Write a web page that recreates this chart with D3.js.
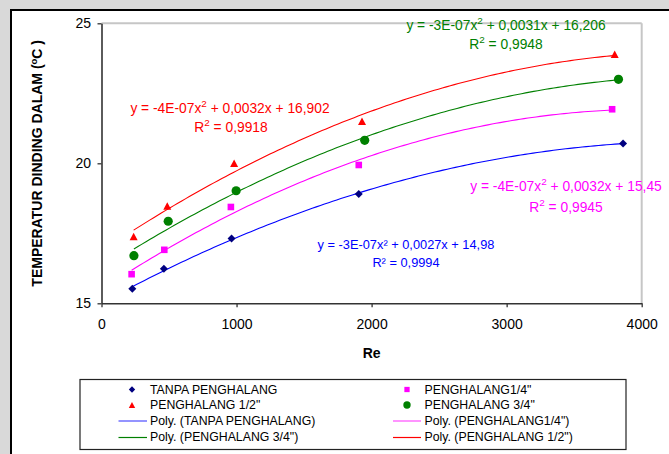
<!DOCTYPE html>
<html>
<head>
<meta charset="utf-8">
<script src="https://cdn.jsdelivr.net/npm/d3@7"></script>
<style>
  html, body { margin: 0; padding: 0; background: #d9d9d9; }
  svg { display: block; }
  text { font-family: "Liberation Sans", Arial, sans-serif; }
</style>
</head>
<body>
<svg id="chart" width="669" height="454"></svg>
<script>
// Measured wall temperature vs. Reynolds number, four baffle configurations
const seriesNames = ["TANPA PENGHALANG", "PENGHALANG1/4\"", "PENGHALANG 1/2\"", "PENGHALANG 3/4\""];
const reTanpa = [228, 462, 963, 1905, 3862];
const tTanpa  = [15.52, 16.23, 17.31, 18.90, 20.71];
const reQuarter = [223, 465, 958, 1905, 3781];
const tQuarter  = [16.04, 16.91, 18.44, 19.94, 21.93];
const reHalf = [238, 487, 982, 1929, 3800];
const tHalf  = [17.38, 18.47, 20.00, 21.50, 23.89];
const reThreeQuarter = [240, 494, 997, 1949, 3828];
const tThreeQuarter  = [16.70, 17.93, 19.02, 20.82, 23.00];

const xTicks = [0, 1000, 2000, 3000, 4000];
const yTicks = [15, 20, 25];

// Trendline equation labels (segments: [text, isSuperscript])
const eqTanpa = [["y = -3E-07x² + 0,0027x + 14,98", false]];
const r2Tanpa = [["R² = 0,9994", false]];
const eqQuarter = [["y = -4E-07x", false], ["2", true], [" + 0,0032x + 15,45", false]];
const r2Quarter = [["R", false], ["2", true], [" = 0,9945", false]];
const eqHalf = [["y = -4E-07x", false], ["2", true], [" + 0,0032x + 16,902", false]];
const r2Half = [["R", false], ["2", true], [" = 0,9918", false]];
const eqThreeQuarter = [["y = -3E-07x", false], ["2", true], [" + 0,0031x + 16,206", false]];
const r2ThreeQuarter = [["R", false], ["2", true], [" = 0,9948", false]];

const svg = d3.select("#chart");

// card frame
svg.append("rect").attr("x", 0).attr("y", 0).attr("width", 669).attr("height", 454).attr("fill", "#d9d9d9");
svg.append("rect").attr("x", 11).attr("y", 10).attr("width", 700).attr("height", 500)
  .attr("fill", "#fff").attr("stroke", "#000").attr("stroke-width", 2);

const x = d3.scaleLinear().domain([0, 4000]).range([101.5, 641.7]);
const y = d3.scaleLinear().domain([15, 25]).range([303.3, 23.3]);

// plot-area border (top / right)
svg.append("line").attr("x1", x(0)).attr("x2", x(4000)).attr("y1", y(25)).attr("y2", y(25))
  .attr("stroke", "#c6c6c6").attr("stroke-width", 2);
svg.append("line").attr("x1", x(4000)).attr("x2", x(4000)).attr("y1", y(25)).attr("y2", y(15))
  .attr("stroke", "#c6c6c6").attr("stroke-width", 2);

// axes
const xAxis = svg.append("g").attr("transform", `translate(0,${y(15)})`)
  .call(d3.axisBottom(x).tickValues(xTicks).tickFormat(d3.format("d")).tickSize(4).tickSizeOuter(0).tickPadding(12));
const yAxis = svg.append("g").attr("transform", `translate(${x(0)},0)`)
  .call(d3.axisLeft(y).tickValues(yTicks).tickFormat(d3.format("d")).tickSize(4).tickSizeOuter(0).tickPadding(6.5));
[xAxis, yAxis].forEach(g => {
  g.select(".domain").attr("stroke", "#333").attr("stroke-width", 1.6);
  g.selectAll(".tick line").attr("stroke", "#333").attr("stroke-width", 1.3);
  g.selectAll(".tick text").attr("font-size", 14).attr("fill", "#000")
    .attr("font-family", "\"Liberation Sans\", Arial, sans-serif");
});

// axis titles
svg.append("text").attr("x", (x(0) + x(4000)) / 2).attr("y", 358).attr("text-anchor", "middle")
  .attr("font-size", 14).attr("font-weight", "bold").text("Re");
const yTitle = svg.append("text").attr("transform", `translate(42,${(y(15) + y(25)) / 2}) rotate(-90)`)
  .attr("text-anchor", "middle").attr("font-size", 14).attr("font-weight", "bold");
yTitle.append("tspan").text("TEMPERATUR DINDING DALAM (");
yTitle.append("tspan").attr("font-size", 9.5).attr("dy", -5.5).text("o");
yTitle.append("tspan").attr("dy", 5.5).text("C )");

// quadratic least-squares trendline
function quadFit(xs, ys) {
  const n = xs.length;
  let s = [0, 0, 0, 0, 0], t = [0, 0, 0];
  for (let i = 0; i < n; i++) {
    let p = 1;
    for (let k = 0; k < 5; k++) { s[k] += p; p *= xs[i]; }
    t[0] += ys[i]; t[1] += ys[i] * xs[i]; t[2] += ys[i] * xs[i] * xs[i];
  }
  const A = [[s[0], s[1], s[2], t[0]], [s[1], s[2], s[3], t[1]], [s[2], s[3], s[4], t[2]]];
  for (let c = 0; c < 3; c++) {
    for (let r = c + 1; r < 3; r++) {
      const f = A[r][c] / A[c][c];
      for (let k = c; k < 4; k++) A[r][k] -= f * A[c][k];
    }
  }
  const b = [0, 0, 0];
  for (let r = 2; r >= 0; r--) {
    let v = A[r][3];
    for (let k = r + 1; k < 3; k++) v -= A[r][k] * b[k];
    b[r] = v / A[r][r];
  }
  return xv => b[0] + b[1] * xv + b[2] * xv * xv;
}

const diamond = s => `M0,${-4 * s}L${4 * s},0L0,${4 * s}L${-4 * s},0Z`;
const square = s => `M${-3.3 * s},${-3.3 * s}h${6.6 * s}v${6.6 * s}h${-6.6 * s}Z`;
const triangle = s => `M0,${-3.9 * s}L${4 * s},${3.6 * s}L${-4 * s},${3.6 * s}Z`;
const circle = s => d3.arc()({ innerRadius: 0, outerRadius: 4.6 * s, startAngle: 0, endAngle: 2 * Math.PI });

const series = [
  { re: reTanpa, t: tTanpa, line: "#0000ff", mark: "#000080", shape: diamond },
  { re: reQuarter, t: tQuarter, line: "#ff00ff", mark: "#ff00ff", shape: square },
  { re: reThreeQuarter, t: tThreeQuarter, line: "#008000", mark: "#008000", shape: circle },
  { re: reHalf, t: tHalf, line: "#ff0000", mark: "#ff0000", shape: triangle }
];

const lineGen = d3.line().x(d => x(d[0])).y(d => y(d[1]));
series.forEach(sr => {
  const f = quadFit(sr.re, sr.t);
  const x0 = d3.min(sr.re), x1 = d3.max(sr.re);
  const pts = d3.range(0, 121).map(i => { const xv = x0 + (x1 - x0) * i / 120; return [xv, f(xv)]; });
  svg.append("path").attr("d", lineGen(pts)).attr("fill", "none").attr("stroke", sr.line).attr("stroke-width", 1.1);
});
series.forEach(sr => {
  svg.append("g").selectAll("path").data(sr.re.map((r, i) => [r, sr.t[i]])).join("path")
    .attr("transform", d => `translate(${x(d[0])},${y(d[1])})`)
    .attr("d", sr.shape(1)).attr("fill", sr.mark);
});

// trendline equations
function eqLabel(parts, cx, by, color, size) {
  const t = svg.append("text").attr("x", cx).attr("y", by).attr("text-anchor", "middle")
    .attr("font-size", size).attr("fill", color);
  let raised = false;
  parts.forEach(([txt, sup]) => {
    const ts = t.append("tspan").text(txt);
    if (sup && !raised) { ts.attr("dy", -6).attr("font-size", size * 0.72); raised = true; }
    else if (!sup && raised) { ts.attr("dy", 6); raised = false; }
  });
}
eqLabel(eqHalf, 230, 112.7, "#ff0000", 13.8);
eqLabel(r2Half, 231, 132.3, "#ff0000", 13.8);
eqLabel(eqThreeQuarter, 506, 29.5, "#008000", 13.8);
eqLabel(r2ThreeQuarter, 506, 49.3, "#008000", 13.8);
eqLabel(eqQuarter, 566, 191, "#ff00ff", 13.8);
eqLabel(r2Quarter, 566, 211.7, "#ff00ff", 13.8);
eqLabel(eqTanpa, 406, 249, "#0000ff", 12.8);
eqLabel(r2Tanpa, 406, 266.7, "#0000ff", 12.8);

// legend
svg.append("rect").attr("x", 80).attr("y", 379.5).attr("width", 546).attr("height", 70)
  .attr("fill", "#fff").attr("stroke", "#222").attr("stroke-width", 1.2);
const rowsY = [389.5, 405, 421, 436.7];
const colMark = [132, 407], colText = [150, 424.5], colLine = [[118.5, 147], [393, 421]];
const legendItems = [
  { label: seriesNames[0], s: series[0], kind: "mark", col: 0, row: 0 },
  { label: seriesNames[1], s: series[1], kind: "mark", col: 1, row: 0 },
  { label: seriesNames[2], s: series[3], kind: "mark", col: 0, row: 1 },
  { label: seriesNames[3], s: series[2], kind: "mark", col: 1, row: 1 },
  { label: "Poly. (" + seriesNames[0] + ")", s: series[0], kind: "line", col: 0, row: 2 },
  { label: "Poly. (" + seriesNames[1] + ")", s: series[1], kind: "line", col: 1, row: 2 },
  { label: "Poly. (" + seriesNames[3] + ")", s: series[2], kind: "line", col: 0, row: 3 },
  { label: "Poly. (" + seriesNames[2] + ")", s: series[3], kind: "line", col: 1, row: 3 }
];
legendItems.forEach(it => {
  const cy = rowsY[it.row];
  if (it.kind === "mark") {
    svg.append("path").attr("transform", `translate(${colMark[it.col]},${cy})`)
      .attr("d", it.s.shape(0.8)).attr("fill", it.s.mark);
  } else {
    const soft = it.s.line === "#0000ff" || it.s.line === "#ff00ff";
    svg.append("line").attr("x1", colLine[it.col][0]).attr("x2", colLine[it.col][1])
      .attr("y1", soft ? Math.round(cy) : Math.round(cy) + 0.5).attr("y2", soft ? Math.round(cy) : Math.round(cy) + 0.5)
      .attr("stroke", it.s.line).attr("stroke-width", 1.2).attr("stroke-opacity", soft ? 0.7 : 1);
  }
  svg.append("text").attr("x", colText[it.col]).attr("y", cy + 4.4).attr("font-size", 12.3).attr("fill", "#000")
    .text(it.label);
});
</script>
</body>
</html>
